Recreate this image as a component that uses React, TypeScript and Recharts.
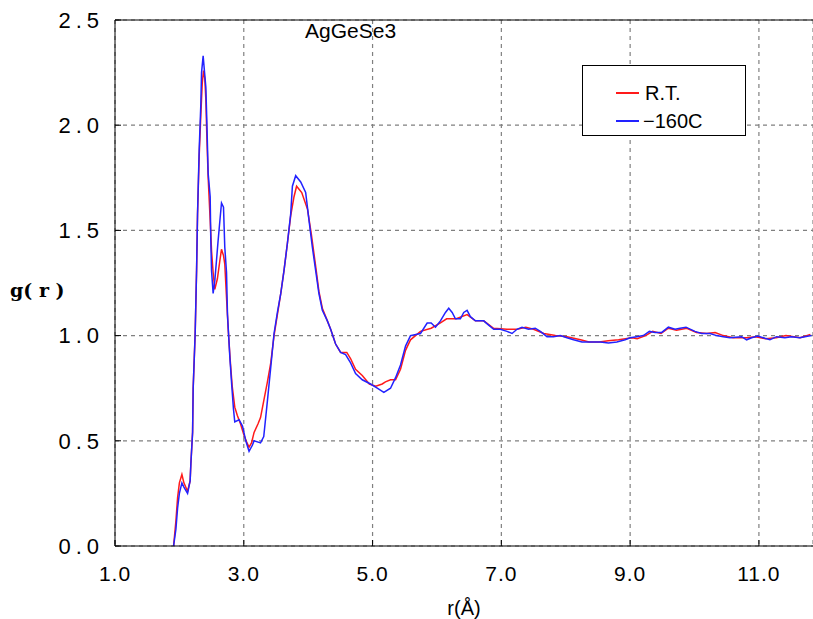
import { LineChart, Line, XAxis, YAxis, CartesianGrid, ReferenceLine } from 'recharts';

// R.T. curve
const rRT = [1.91, 1.946, 1.972, 2.0, 2.039, 2.07, 2.127, 2.167, 2.178, 2.205, 2.214, 2.245, 2.267, 2.282, 2.307, 2.333, 2.355, 2.375, 2.395, 2.411, 2.426, 2.447, 2.478, 2.5, 2.524, 2.55, 2.59, 2.63, 2.654, 2.685, 2.705, 2.732, 2.76, 2.79, 2.82, 2.86, 2.9, 2.95, 3.0, 3.05, 3.082, 3.12, 3.16, 3.22, 3.26, 3.31, 3.367, 3.419, 3.47, 3.522, 3.574, 3.625, 3.678, 3.729, 3.78, 3.82, 3.9, 3.99, 4.05, 4.116, 4.167, 4.22, 4.298, 4.349, 4.426, 4.504, 4.6, 4.66, 4.736, 4.84, 4.95, 5.05, 5.15, 5.2, 5.279, 5.357, 5.434, 5.512, 5.589, 5.744, 5.91, 6.054, 6.15, 6.3, 6.468, 6.597, 6.726, 6.88, 7.088, 7.243, 7.38, 7.5, 7.66, 7.84, 8.02, 8.23, 8.36, 8.52, 8.66, 8.82, 9.03, 9.11, 9.24, 9.35, 9.48, 9.594, 9.72, 9.88, 10.03, 10.19, 10.32, 10.447, 10.6, 10.81, 10.95, 11.1, 11.27, 11.42, 11.64, 11.8];
const gRT = [0.0, 0.12, 0.23, 0.3, 0.34, 0.3, 0.26, 0.31, 0.39, 0.54, 0.75, 1.01, 1.31, 1.58, 1.85, 2.05, 2.2, 2.26, 2.22, 2.12, 1.95, 1.75, 1.55, 1.4, 1.3, 1.22, 1.27, 1.36, 1.41, 1.38, 1.34, 1.18, 1.02, 0.88, 0.76, 0.66, 0.62, 0.58, 0.53, 0.49, 0.47, 0.49, 0.54, 0.58, 0.61, 0.69, 0.78, 0.87, 1.0, 1.1, 1.2, 1.31, 1.44, 1.57, 1.66, 1.71, 1.68, 1.6, 1.48, 1.33, 1.21, 1.13, 1.07, 1.03, 0.96, 0.92, 0.92, 0.89, 0.84, 0.81, 0.77, 0.76, 0.77, 0.78, 0.79, 0.79, 0.84, 0.93, 0.98, 1.02, 1.035, 1.06, 1.08, 1.08, 1.1, 1.07, 1.07, 1.035, 1.03, 1.03, 1.04, 1.03, 1.01, 1.0, 0.995, 0.98, 0.97, 0.97, 0.975, 0.98, 0.99, 0.985, 1.0, 1.02, 1.01, 1.035, 1.025, 1.035, 1.015, 1.01, 1.015, 1.0, 0.99, 0.99, 0.995, 0.985, 0.99, 1.0, 0.99, 1.005];

// -160C curve
const rLow = [1.91, 1.946, 1.972, 2.0, 2.039, 2.07, 2.127, 2.167, 2.178, 2.205, 2.214, 2.245, 2.267, 2.282, 2.307, 2.333, 2.344, 2.369, 2.391, 2.411, 2.426, 2.447, 2.478, 2.488, 2.499, 2.524, 2.55, 2.601, 2.633, 2.654, 2.685, 2.705, 2.732, 2.747, 2.783, 2.814, 2.84, 2.86, 2.927, 2.98, 3.031, 3.082, 3.135, 3.16, 3.26, 3.31, 3.367, 3.419, 3.47, 3.522, 3.574, 3.625, 3.678, 3.729, 3.755, 3.806, 3.884, 3.961, 4.012, 4.065, 4.116, 4.167, 4.22, 4.298, 4.349, 4.426, 4.504, 4.581, 4.659, 4.736, 4.84, 4.969, 5.073, 5.175, 5.279, 5.357, 5.434, 5.512, 5.589, 5.744, 5.848, 5.91, 5.977, 6.054, 6.132, 6.183, 6.236, 6.287, 6.364, 6.416, 6.468, 6.519, 6.597, 6.726, 6.803, 6.881, 6.984, 7.088, 7.166, 7.243, 7.321, 7.423, 7.527, 7.605, 7.709, 7.811, 7.915, 8.019, 8.121, 8.251, 8.38, 8.535, 8.664, 8.794, 8.922, 9.0, 9.104, 9.206, 9.299, 9.388, 9.491, 9.594, 9.698, 9.775, 9.868, 10.006, 10.112, 10.24, 10.344, 10.447, 10.55, 10.732, 10.809, 10.887, 10.984, 11.093, 11.171, 11.274, 11.403, 11.507, 11.636, 11.713, 11.817];
const gLow = [0.0, 0.08, 0.18, 0.25, 0.3, 0.28, 0.25, 0.31, 0.39, 0.54, 0.75, 1.01, 1.31, 1.58, 1.88, 2.1, 2.25, 2.33, 2.25, 2.18, 2.02, 1.77, 1.66, 1.45, 1.31, 1.2, 1.26, 1.45, 1.56, 1.63, 1.61, 1.42, 1.3, 1.1, 0.9, 0.76, 0.65, 0.59, 0.6, 0.57, 0.5, 0.45, 0.48, 0.5, 0.49, 0.52, 0.69, 0.85, 1.01, 1.11, 1.2, 1.31, 1.44, 1.58, 1.71, 1.76, 1.73, 1.68, 1.55, 1.42, 1.31, 1.2, 1.12, 1.07, 1.03, 0.96, 0.92, 0.91, 0.87, 0.82, 0.79, 0.77, 0.75, 0.73, 0.75, 0.8, 0.86, 0.95, 1.0, 1.01, 1.06, 1.06, 1.04, 1.07, 1.11, 1.13, 1.11, 1.08, 1.08, 1.11, 1.12, 1.09, 1.07, 1.07, 1.05, 1.03, 1.03, 1.02, 1.01, 1.03, 1.04, 1.03, 1.035, 1.02, 0.995, 0.995, 1.0, 0.99, 0.98, 0.97, 0.97, 0.97, 0.965, 0.97, 0.98, 0.99, 0.995, 1.0, 1.02, 1.015, 1.015, 1.04, 1.03, 1.035, 1.04, 1.02, 1.01, 1.01, 1.0, 0.995, 0.99, 0.995, 0.98, 0.99, 0.998, 0.987, 0.98, 0.995, 0.99, 0.995, 0.99, 0.995, 1.0];

const xTicks = [1, 3, 5, 7, 9, 11];
const yTicks = [0, 0.5, 1, 1.5, 2, 2.5];

const rt = rRT.map((r, i) => ({ r, g: gRT[i] }));
const low = rLow.map((r, i) => ({ r, g: gLow[i] }));

const font = '"Liberation Sans", Arial, sans-serif';
const red = '#ff1a1a';
const blue = '#2222ff';

export default function App() {
  return (
    <div style={{ position: 'relative', width: 813, height: 619, background: '#fff', fontFamily: font }}>
      <style>{'body{margin:0;overflow:hidden}'}</style>
      <LineChart width={813} height={619} margin={{ top: 20, right: 0, left: 0, bottom: 0 }}>
        <CartesianGrid stroke="#808080" strokeDasharray="4 4" strokeWidth={1.2} />
        <XAxis
          type="number"
          dataKey="r"
          domain={[1, 11.84]}
          allowDataOverflow
          ticks={xTicks}
          tickFormatter={(v: number) => v.toFixed(1)}
          tick={{ fill: '#000', fontSize: 21, fontFamily: font, letterSpacing: 1 }}
          tickSize={-6}
          tickMargin={26}
          height={73}
          stroke="#000"
          label={{ value: 'r(Å)', position: 'insideBottom', offset: 4, fill: '#000', fontSize: 20, fontFamily: font }}
        />
        <YAxis
          type="number"
          domain={[0, 2.5]}
          ticks={yTicks}
          tickFormatter={(v: number) => v.toFixed(1)}
          tick={{ fill: '#000', fontSize: 22, fontFamily: font, letterSpacing: 5 }}
          tickSize={-6}
          tickMargin={17}
          width={115}
          stroke="#000"
          label={{ value: 'g( r )', position: 'insideLeft', angle: 0, offset: 10, dy: 7, fill: '#000', fontSize: 19, fontFamily: '"DejaVu Serif", serif', fontWeight: 'bold' }}
        />
        <ReferenceLine y={2.5} stroke="#000" strokeWidth={1} />
        <Line data={rt} dataKey="g" type="linear" stroke={red} strokeWidth={1.5} dot={false} isAnimationActive={false} name="R.T." />
        <Line data={low} dataKey="g" type="linear" stroke={blue} strokeWidth={1.5} dot={false} isAnimationActive={false} name="−160C" />
      </LineChart>
      <div style={{ position: 'absolute', left: 305, top: 20, fontSize: 21, lineHeight: '22px' }}>AgGeSe3</div>
      <div style={{ position: 'absolute', left: 582, top: 65, width: 164, height: 71, boxSizing: 'border-box', border: '1.5px solid #000', background: '#fff', fontSize: 20 }}>
        <div style={{ position: 'absolute', left: 33, top: 26, width: 23, height: 2, background: red }} />
        <div style={{ position: 'absolute', left: 62, top: 15, lineHeight: '24px' }}>R.T.</div>
        <div style={{ position: 'absolute', left: 33, top: 54, width: 23, height: 2, background: blue }} />
        <div style={{ position: 'absolute', left: 60, top: 43, lineHeight: '24px' }}>−160C</div>
      </div>
    </div>
  );
}
